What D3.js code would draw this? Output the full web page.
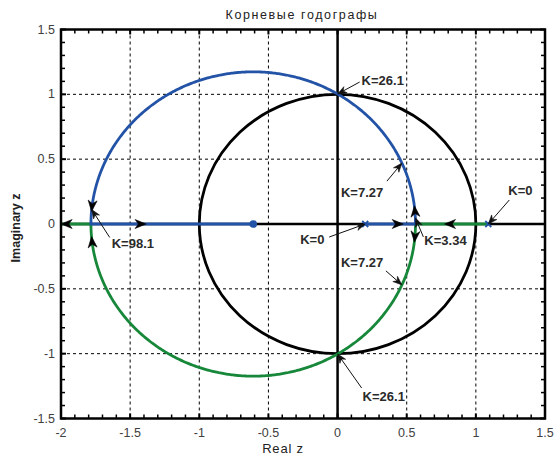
<!DOCTYPE html>
<html>
<head>
<meta charset="utf-8">
<script src="https://cdn.jsdelivr.net/npm/d3@7"></script>
<style>
  html, body { margin: 0; padding: 0; background: #fff; }
  svg { display: block; font-family: Arial, "Liberation Sans", sans-serif; }
</style>
</head>
<body>
<svg id="chart" width="557" height="459"></svg>
<script>
// Open-loop system: poles, zero and loop gain factor (root locus of 1 + K*G(z))
const poles = [0.2, 1.09];
const zeros = [-0.61];
const gainFactor = 0.0494;

// Axis ranges and tick labels
const xTicks = [-2, -1.5, -1, -0.5, 0, 0.5, 1, 1.5];
const yTicks = [-1.5, -1, -0.5, 0, 0.5, 1, 1.5];
const xTickLabels = ["-2", "-1.5", "-1", "-0.5", "0", "0.5", "1", "1.5"];
const yTickLabels = ["-1.5", "-1", "-0.5", "0", "0.5", "1", "1.5"];

// Gain annotations: K value, branch ("blue" = upper / from pole 0.2, "green" = lower / from pole 1.09)
const annK      = [26.1, 7.27, 0, 0, 3.34, 7.27, 26.1, 98.1];
const annBranch = ["blue", "blue", "green", "blue", "blue", "green", "green", "blue"];
const annText   = ["K=26.1", "K=7.27", "K=0", "K=0", "K=3.34", "K=7.27", "K=26.1", "K=98.1"];

// Gains where direction arrows are drawn along each branch
const dirK      = [3.0, 3.48, 98.0, 101.6, 2.44, 3.48, 98.0, 98.8];
const dirBranch = ["blue", "blue", "blue", "blue", "green", "green", "green", "green"];

// Label layout relative to the annotated point: text start [dx, dy] and arrow tail [dx, dy]
const annLabelOffset = [[24, -9], [-61, 34], [20, -29], [-65, 20], [9, 27], [-61, -18], [25, 47], [20, 39]];
const annTailOffset  = [[22, -12], [-15, 18], [21, -24], [-36, 13], [8, 19], [-16, -14], [24, 34], [18, 28]];

const W = 557, H = 459;
const margin = { left: 61, right: 12, top: 29.5, bottom: 40.5 };
const x = d3.scaleLinear().domain([-2, 1.5]).range([margin.left, W - margin.right]);
const y = d3.scaleLinear().domain([-1.5, 1.5]).range([H - margin.bottom, margin.top]);

const blue = "#2353a6", green = "#17883a";
const svg = d3.select("#chart");

svg.append("defs").append("clipPath").attr("id", "plotClip")
  .append("rect").attr("x", x(-2)).attr("y", y(1.5))
  .attr("width", x(1.5) - x(-2)).attr("height", y(-1.5) - y(1.5));

// ---- root computation ----
const s = poles[0] + poles[1], q = poles[0] * poles[1], z0 = zeros[0];
// characteristic polynomial: z^2 + (u - s) z + (q - u z0), with u = g*K
function roots(u) {
  const b = u - s, c = q - u * z0;
  const disc = b * b - 4 * c;
  if (disc >= 0) {
    const r = Math.sqrt(disc);
    return { real: true, lo: (-b - r) / 2, hi: (-b + r) / 2 };
  }
  return { real: false, re: -b / 2, im: Math.sqrt(-disc) / 2 };
}
// breakaway / break-in gains (double roots)
const A = 4 * z0 - 2 * s, Bc = s * s - 4 * q;
const dr = Math.sqrt(A * A - 4 * Bc);
const u1 = (-A - dr) / 2, u2 = (-A + dr) / 2;

function branchPoint(u, branch) {
  const r = roots(u);
  if (u <= u1) {
    const v = r.real ? (branch === "blue" ? r.lo : r.hi) : r.re;
    return [v, 0];
  }
  if (u < u2) {
    if (r.real) return [(r.lo + r.hi) / 2, 0];
    return [r.re, branch === "blue" ? r.im : -r.im];
  }
  if (!r.real) return [r.re, 0];
  return [branch === "blue" ? r.hi : r.lo, 0];
}

function branchPath(branch) {
  const pts = [];
  const n = 400;
  for (let i = 0; i <= n; i++) {
    const t = i / n;
    pts.push(branchPoint(u1 * (1 - Math.cos(Math.PI * t)) / 2, branch));
  }
  for (let i = 1; i <= n; i++) {
    const t = i / n;
    pts.push(branchPoint(u1 + (u2 - u1) * (1 - Math.cos(Math.PI * t)) / 2, branch));
  }
  for (let i = 1; i <= n; i++) {
    const t = i / n;
    pts.push(branchPoint(u2 + 2000 * t * t * t, branch));
  }
  if (branch === "blue") pts.push([z0, 0]);
  return pts;
}

// ---- grid ----
const grid = svg.append("g");
xTicks.slice(1, -1).forEach(v => {
  grid.append("line").attr("x1", x(v)).attr("x2", x(v)).attr("y1", y(1.5)).attr("y2", y(-1.5))
    .attr("stroke", "#000").attr("stroke-width", 1).attr("stroke-dasharray", "3,3");
});
yTicks.slice(1, -1).forEach(v => {
  grid.append("line").attr("y1", y(v)).attr("y2", y(v)).attr("x1", x(-2)).attr("x2", x(1.5))
    .attr("stroke", "#000").attr("stroke-width", 1).attr("stroke-dasharray", "3,3");
});

// ---- minor/major ticks on all four sides (inward) ----
const ticks = svg.append("g").attr("stroke", "#000");
d3.range(-20, 16).forEach(i => {
  const v = i / 10, major = i % 5 === 0, len = major ? 5 : 4;
  ticks.append("line").attr("x1", x(v)).attr("x2", x(v)).attr("y1", y(-1.5)).attr("y2", y(-1.5) - len).attr("stroke-width", major ? 2 : 1.5);
  ticks.append("line").attr("x1", x(v)).attr("x2", x(v)).attr("y1", y(1.5)).attr("y2", y(1.5) + len).attr("stroke-width", major ? 2 : 1.5);
});
d3.range(-15, 16).forEach(i => {
  const v = i / 10, major = i % 5 === 0, len = major ? 5 : 4;
  ticks.append("line").attr("y1", y(v)).attr("y2", y(v)).attr("x1", x(-2)).attr("x2", x(-2) + len).attr("stroke-width", major ? 2 : 1.5);
  ticks.append("line").attr("y1", y(v)).attr("y2", y(v)).attr("x1", x(1.5)).attr("x2", x(1.5) - len).attr("stroke-width", major ? 2 : 1.5);
});

// ---- axes through origin ----
svg.append("line").attr("x1", x(-2)).attr("x2", x(1.5)).attr("y1", y(0)).attr("y2", y(0))
  .attr("stroke", "#000").attr("stroke-width", 2.5);
svg.append("line").attr("x1", x(0)).attr("x2", x(0)).attr("y1", y(1.5)).attr("y2", y(-1.5))
  .attr("stroke", "#000").attr("stroke-width", 2.5);

const plot = svg.append("g").attr("clip-path", "url(#plotClip)");

// ---- unit circle ----
plot.append("ellipse").attr("cx", x(0)).attr("cy", y(0))
  .attr("rx", x(1) - x(0)).attr("ry", y(0) - y(1))
  .attr("fill", "none").attr("stroke", "#000").attr("stroke-width", 2.8);

// ---- root locus branches ----
const line = d3.line().x(d => x(d[0])).y(d => y(d[1]));
plot.append("path").datum(branchPath("green")).attr("d", line)
  .attr("fill", "none").attr("stroke", green).attr("stroke-width", 2.8);
plot.append("path").datum(branchPath("blue")).attr("d", line)
  .attr("fill", "none").attr("stroke", blue).attr("stroke-width", 2.8);

// ---- poles (x) and zero (o) ----
poles.forEach(p => {
  const cx = x(p), cy = y(0), r = 3;
  plot.append("path").attr("d", `M${cx - r},${cy - r}L${cx + r},${cy + r}M${cx - r},${cy + r}L${cx + r},${cy - r}`)
    .attr("stroke", blue).attr("stroke-width", 1.8);
});
zeros.forEach(zz => {
  plot.append("circle").attr("cx", x(zz)).attr("cy", y(0)).attr("r", 3.8).attr("fill", blue);
});

// ---- direction arrows along branches ----
function arrowHead(g, tipX, tipY, ang, len, half, fill) {
  const c = Math.cos(ang), sn = Math.sin(ang);
  const bx = tipX - len * c, by = tipY - len * sn;
  const nx = -sn, ny = c;
  const mx = tipX - len * 0.7 * c, my = tipY - len * 0.7 * sn;
  g.append("path")
    .attr("d", `M${tipX},${tipY}L${bx + half * nx},${by + half * ny}L${mx},${my}L${bx - half * nx},${by - half * ny}Z`)
    .attr("fill", fill).attr("stroke", fill).attr("stroke-width", 0.6);
}
dirK.forEach((k, i) => {
  const u = k * gainFactor;
  const p = branchPoint(u, dirBranch[i]);
  const p2 = branchPoint(u * 1.002 + 1e-4, dirBranch[i]);
  const px = x(p[0]), py = y(p[1]);
  const ang = Math.atan2(y(p2[1]) - py, x(p2[0]) - px);
  arrowHead(svg, px + 5 * Math.cos(ang), py + 5 * Math.sin(ang), ang, 11, 4.5, "#000");
});

// ---- gain annotations ----
const ann = svg.append("g");
annK.forEach((k, i) => {
  const p = branchPoint(k * gainFactor, annBranch[i]);
  const tx = x(p[0]), ty = y(p[1]);
  const [ldx, ldy] = annLabelOffset[i];
  const [sdx, sdy] = annTailOffset[i];
  const ang = Math.atan2(-sdy, -sdx);
  ann.append("line").attr("x1", tx + sdx).attr("y1", ty + sdy)
    .attr("x2", tx - 6 * Math.cos(ang)).attr("y2", ty - 6 * Math.sin(ang))
    .attr("stroke", "#111").attr("stroke-width", 1);
  arrowHead(ann, tx, ty, ang, 9, 3.5, "#111");
  ann.append("text").attr("x", tx + ldx).attr("y", ty + ldy)
    .attr("font-size", 13).attr("font-weight", "bold").attr("fill", "#2a2a2a")
    .text(annText[i]);
});

// ---- frame ----
svg.append("rect").attr("x", x(-2)).attr("y", y(1.5))
  .attr("width", x(1.5) - x(-2)).attr("height", y(-1.5) - y(1.5))
  .attr("fill", "none").attr("stroke", "#000").attr("stroke-width", 2.5);

// ---- tick labels ----
const labels = svg.append("g").attr("font-size", 12.5).attr("fill", "#404040");
xTicks.forEach((v, i) => {
  labels.append("text").attr("x", x(v)).attr("y", y(-1.5) + 18)
    .attr("text-anchor", "middle").text(xTickLabels[i]);
});
yTicks.forEach((v, i) => {
  labels.append("text").attr("x", x(-2) - 6).attr("y", y(v) + 4)
    .attr("text-anchor", "end").text(yTickLabels[i]);
});

// ---- titles ----
svg.append("text").attr("x", 302).attr("y", 19).attr("text-anchor", "middle")
  .attr("font-size", 12.5).attr("letter-spacing", 1.6).attr("fill", "#222").text("Корневые годографы");
svg.append("text").attr("x", 283).attr("y", 453).attr("text-anchor", "middle")
  .attr("font-size", 13).attr("letter-spacing", 0.8).attr("fill", "#222").text("Real z");
svg.append("text").attr("transform", `translate(20,${y(0) + 4}) rotate(-90)`).attr("text-anchor", "middle")
  .attr("font-size", 12.5).attr("font-weight", "bold").attr("fill", "#222").text("Imaginary z");
</script>
</body>
</html>
